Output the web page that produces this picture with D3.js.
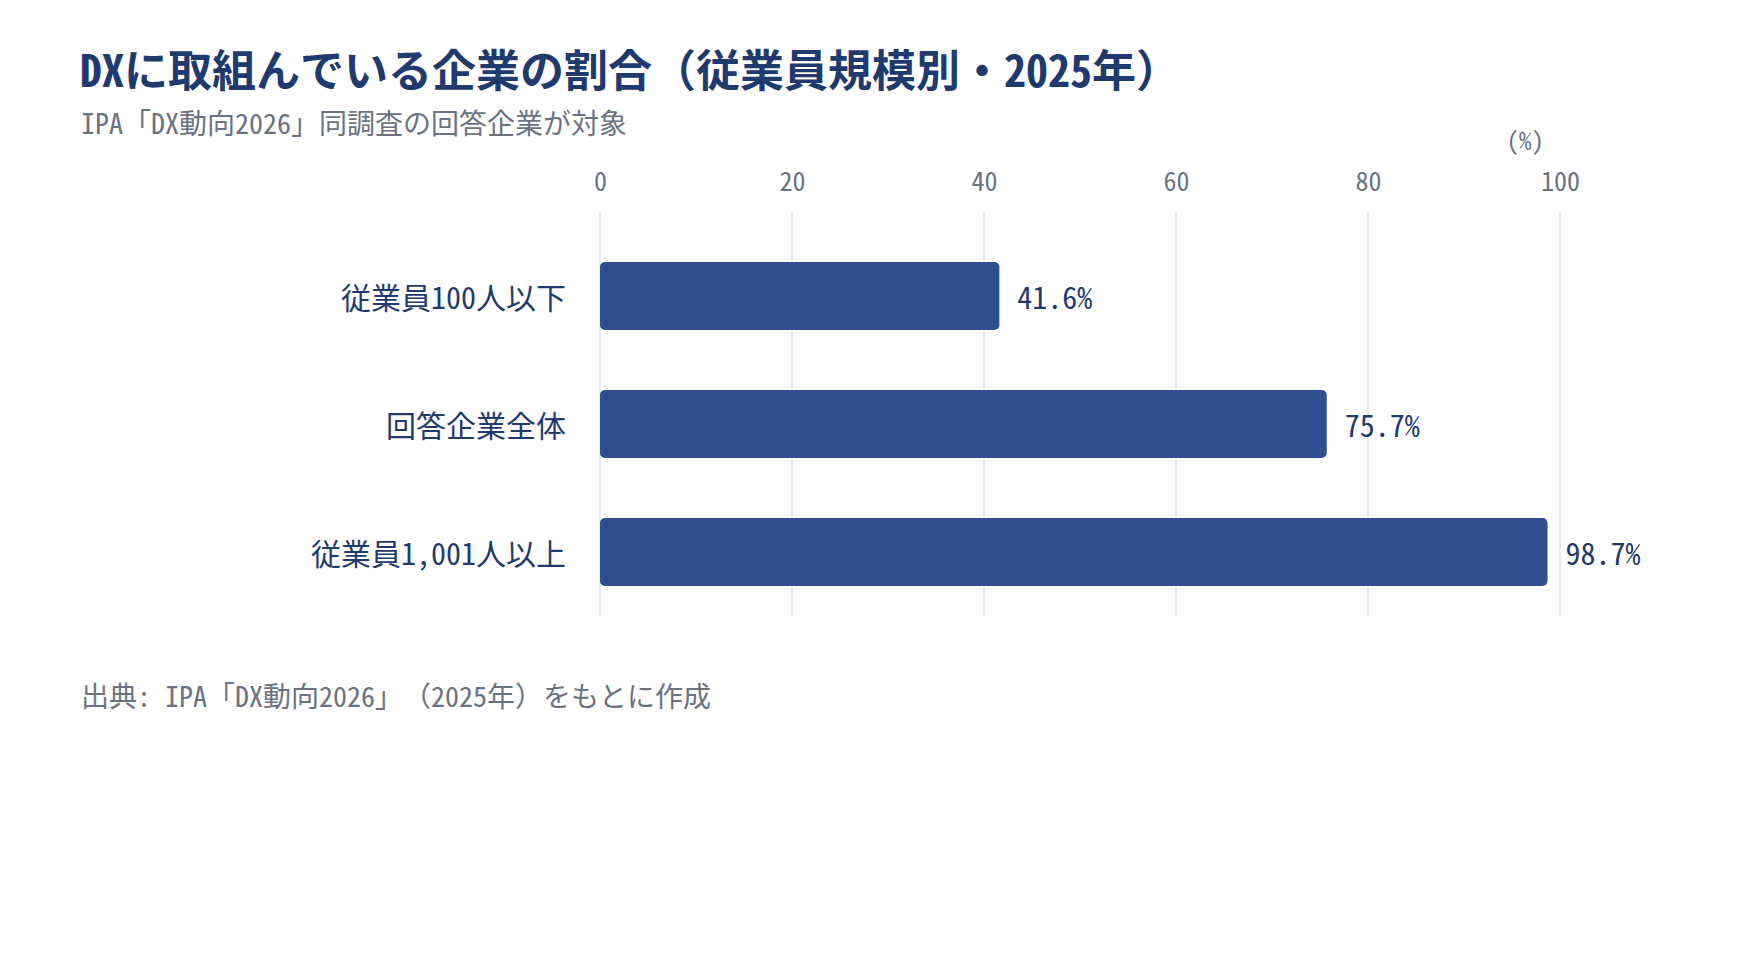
<!DOCTYPE html>
<html>
<head>
<meta charset="utf-8">
<script src="https://cdn.jsdelivr.net/npm/d3@7"></script>
<style>
  body { margin: 0; background: #fff; }
  svg { display: block; font-family: "Noto Sans Mono CJK JP", "Noto Sans CJK JP", monospace; text-spacing-trim: space-all; }
</style>
</head>
<body>
<svg id="chart" width="1760" height="976"></svg>
<script>
// data
const categories = ['従業員100人以下', '回答企業全体', '従業員1,001人以上'];
const values = [41.6, 75.7, 98.7];
const xTicks = [0, 20, 40, 60, 80, 100];

const titleText = 'DXに取組んでいる企業の割合（従業員規模別・2025年）';
const subtitleText = 'IPA「DX動向2026」同調査の回答企業が対象';
const sourceText = '出典: IPA「DX動向2026」（2025年）をもとに作成';
const unitText = '(%)';

var svg = d3.select('#chart');

var navy = '#1f3a6e';
var grey = '#6b7280';
var barColor = '#2e5090';

// scales
var xScale = d3.scaleLinear()
  .domain([0, 100])
  .range([600, 1560]);

var yScale = d3.scaleBand()
  .domain(categories)
  .range([232, 616])
  .paddingInner(0.46875)
  .paddingOuter(0.234375);

// title + subtitle
svg.append('text')
  .attr('x', 80)
  .attr('y', 87)
  .attr('fill', navy)
  .attr('font-size', '44px')
  .attr('font-weight', 'bold')
  .text(titleText);

svg.append('text')
  .attr('x', 81)
  .attr('y', 134)
  .attr('fill', grey)
  .attr('font-size', '28px')
  .text(subtitleText);

// grid lines
svg.append('g')
  .selectAll('line')
  .data(xTicks)
  .enter()
  .append('line')
  .attr('x1', d => xScale(d))
  .attr('x2', d => xScale(d))
  .attr('y1', 212)
  .attr('y2', 616)
  .attr('stroke', '#e1e5ef')
  .attr('stroke-width', 1.5);

// top axis
var xAxis = d3.axisTop(xScale)
  .tickValues(xTicks)
  .tickSize(0)
  .tickPadding(0);

var axisG = svg.append('g')
  .attr('transform', 'translate(0, 191)')
  .call(xAxis)
  .attr('font-family', null)
  .attr('font-size', null);
axisG.select('.domain').remove();
axisG.selectAll('text')
  .attr('fill', grey)
  .attr('font-size', '26px')
  .attr('dy', 0);

svg.append('text')
  .attr('x', 1544)
  .attr('y', 150)
  .attr('text-anchor', 'end')
  .attr('fill', grey)
  .attr('font-size', '25px')
  .text(unitText);

// bars
var rows = categories.map((c, i) => ({ cat: c, val: values[i] }));

svg.append('g')
  .selectAll('rect')
  .data(rows)
  .enter()
  .append('rect')
  .attr('x', xScale(0))
  .attr('y', d => yScale(d.cat))
  .attr('width', d => xScale(d.val) - xScale(0))
  .attr('height', yScale.bandwidth())
  .attr('rx', 5)
  .attr('fill', barColor);

// value labels
svg.append('g')
  .selectAll('text')
  .data(rows)
  .enter()
  .append('text')
  .attr('x', d => xScale(d.val) + 18)
  .attr('y', d => yScale(d.cat) + yScale.bandwidth() / 2)
  .attr('dominant-baseline', 'central')
  .attr('fill', navy)
  .attr('font-size', '30px')
  .text(d => d.val.toFixed(1) + '%');

// category labels
svg.append('g')
  .selectAll('text')
  .data(rows)
  .enter()
  .append('text')
  .attr('x', 566)
  .attr('y', d => yScale(d.cat) + yScale.bandwidth() / 2)
  .attr('text-anchor', 'end')
  .attr('dominant-baseline', 'central')
  .attr('fill', navy)
  .attr('font-size', '30px')
  .text(d => d.cat);

// source note
svg.append('text')
  .attr('x', 81)
  .attr('y', 707)
  .attr('fill', grey)
  .attr('font-size', '28px')
  .text(sourceText);
</script>
</body>
</html>
